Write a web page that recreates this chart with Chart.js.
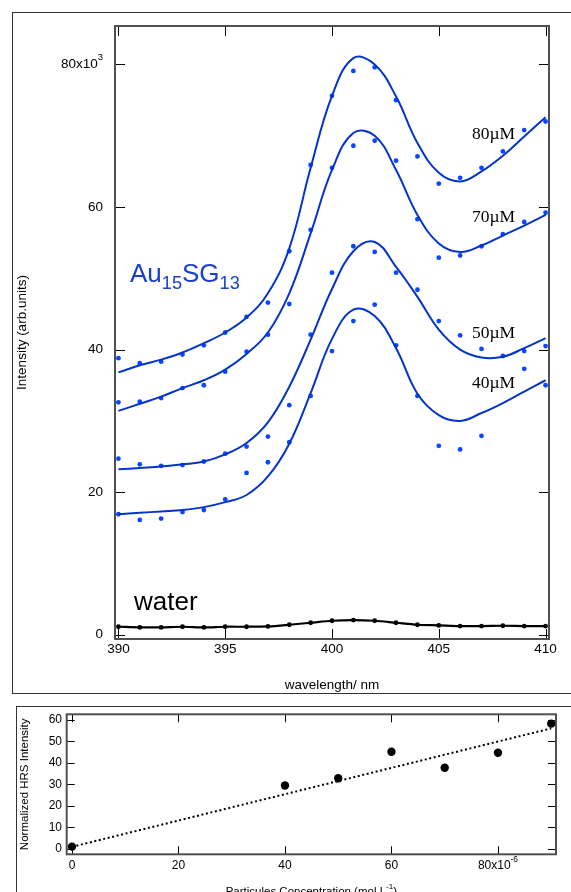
<!DOCTYPE html>
<html>
<head>
<meta charset="utf-8">
<script src="https://cdn.jsdelivr.net/npm/chart.js@4.4.1/dist/chart.umd.min.js"></script>
<style>
  body { margin: 0; background: #fff; width: 571px; height: 892px; overflow: hidden; position: relative; }
  canvas { position: absolute; left: 0; }
  .frame { position: absolute; border: 1.5px solid #333; }
</style>
</head>
<body>
<div class="frame" style="left:12px;top:12px;width:700px;height:680px"></div>
<div class="frame" style="left:16px;top:706px;width:700px;height:400px"></div>
<canvas id="spectra" width="571" height="700" style="top:0"></canvas>
<canvas id="hrs" width="571" height="192" style="top:700px"></canvas>
<script>
Chart.defaults.font.family = 'Liberation Sans';
Chart.defaults.animation = false;

// spectra (intensity in units of 10^3)
const wavelength = [390,391,392,393,394,395,396,397,398,399,400,401,402,403,404,405,406,407,408,409,410];
const dots80 = [38.8,38.1,38.3,39.3,40.6,42.4,44.6,46.6,53.8,65.9,75.6,79.1,79.6,75.0,67.1,63.3,64.1,65.5,67.8,70.8,72.0];
const dots70 = [32.6,32.7,33.2,34.6,35.0,36.9,39.7,42.1,46.4,56.8,65.5,68.6,69.3,66.5,58.3,52.9,53.2,54.5,56.2,57.9,59.2];
const dots50 = [24.7,23.9,23.7,23.8,24.3,25.4,26.4,27.8,32.2,42.1,50.8,54.5,53.7,50.8,48.4,44.0,42.0,40.1,39.1,39.8,40.5];
const dots40 = [16.9,16.1,16.3,17.2,17.5,19.0,22.7,24.2,27.0,33.5,39.8,44.0,46.3,40.6,33.5,26.5,26.0,27.9,null,37.3,35.0];
const waterDots = [1.12,1.03,1.03,1.12,1.03,1.12,1.12,1.17,1.40,1.68,1.96,2.06,1.96,1.68,1.40,1.31,1.21,1.21,1.26,1.21,1.21];

// fitted curves at each wavelength
const fit80 = [36.8,37.8,38.6,39.6,40.9,42.4,44.5,47.9,54.2,65.5,75.6,80.9,80.0,75.5,69.0,64.8,63.6,65.0,67.2,69.9,72.6];
const fit70 = [31.4,32.4,33.4,34.6,35.7,37.2,39.4,42.4,47.9,56.3,65.2,70.4,70.0,65.2,58.9,54.9,53.7,54.6,56.0,57.4,58.9];
const fit50 = [23.2,23.4,23.6,23.9,24.3,25.3,26.9,29.8,34.8,41.4,48.5,53.8,55.1,51.6,47.4,42.8,40.0,38.9,39.0,40.2,41.6];
const fit40 = [16.9,17.1,17.3,17.5,17.9,18.6,19.6,22.2,26.8,33.9,41.5,45.6,44.7,40.2,33.8,30.8,30.0,31.1,32.5,34.1,35.7];

const concLabels = ['80µM', '70µM', '50µM', '40µM'];
const nmTicks = [390, 395, 400, 405, 410];
const intensityTicks = [0, 20, 40, 60, 80];

// HRS vs concentration (units of 10^-6 mol/L)
const concentration = [0, 40, 50, 60, 70, 80, 90];
const hrsIntensity = [1.1, 29.5, 32.9, 45.2, 37.8, 44.8, 58.3];
const lineConc = [0, 90];
const lineHrs = [1.0, 56.1];
const concTicks = [0, 20, 40, 60, 80];
const hrsTicks = [0, 10, 20, 30, 40, 50, 60];

function xy(xs, ys) {
  return xs.map((x, i) => ({ x: x, y: ys[i] }));
}

// draws text made of normal / superscript / subscript parts
function richText(ctx, parts, x, y, align, size, color, family) {
  family = family || 'Liberation Sans';
  const small = size * 0.7;
  const fontOf = p => (p.sup || p.sub ? small : size) + 'px "' + family + '"';
  let w = 0;
  parts.forEach(p => { ctx.font = fontOf(p); w += ctx.measureText(p.t).width; });
  let cx = align === 'right' ? x - w : (align === 'center' ? x - w / 2 : x);
  ctx.fillStyle = color;
  ctx.textAlign = 'left';
  parts.forEach(p => {
    ctx.font = fontOf(p);
    const dy = p.sup ? -size * 0.5 : (p.sub ? size * 0.26 : 0);
    ctx.fillText(p.t, cx, y + dy);
    cx += ctx.measureText(p.t).width;
  });
  return w;
}

// Igor-like frame: box, inward ticks on all sides, labels
function axesPlugin(o) {
  return {
    id: 'axes_' + o.name,
    afterDatasetsDraw(chart) {
      const ctx = chart.ctx, a = chart.chartArea;
      const sx = chart.scales.x, sy = chart.scales.y;
      ctx.save();
      ctx.strokeStyle = '#000';
      ctx.lineWidth = 1;
      ctx.beginPath();
      sx.ticks.forEach(t => {
        const p = Math.round(sx.getPixelForValue(t.value)) + 0.5;
        ctx.moveTo(p, a.bottom); ctx.lineTo(p, a.bottom - o.tick);
        ctx.moveTo(p, a.top); ctx.lineTo(p, a.top + o.tick);
      });
      sy.ticks.forEach(t => {
        const p = Math.round(sy.getPixelForValue(t.value)) + 0.5;
        ctx.moveTo(a.left, p); ctx.lineTo(a.left + o.tick, p);
        ctx.moveTo(a.right, p); ctx.lineTo(a.right - o.tick, p);
      });
      ctx.stroke();
      ctx.strokeStyle = '#505050';
      ctx.lineWidth = 2;
      ctx.strokeRect(a.left, a.top, a.right - a.left, a.bottom - a.top);

      ctx.textBaseline = 'middle';
      sx.ticks.forEach(t => richText(ctx, o.xLabel(t.value), sx.getPixelForValue(t.value), o.xLabelY, 'center', o.size, '#000'));
      sy.ticks.forEach(t => richText(ctx, o.yLabel(t.value), o.yLabelX, sy.getPixelForValue(t.value), 'right', o.size, '#000'));

      // axis titles
      ctx.textBaseline = 'alphabetic';
      richText(ctx, o.xTitle, (a.left + a.right) / 2, o.xTitleY, 'center', o.titleSize, '#000');
      ctx.translate(o.yTitleX, (a.top + a.bottom) / 2);
      ctx.rotate(-Math.PI / 2);
      ctx.textBaseline = 'middle';
      richText(ctx, o.yTitle, 0, 0, 'center', o.titleSize, '#000');
      ctx.restore();
    }
  };
}

const spectraNotes = {
  id: 'spectraNotes',
  afterDatasetsDraw(chart) {
    const ctx = chart.ctx;
    ctx.save();
    const ys = [134, 217, 333, 383];
    ctx.textBaseline = 'middle';
    ctx.font = '17.5px "Liberation Serif"';
    concLabels.forEach((t, i) => {
      const w = ctx.measureText(t).width;
      ctx.fillStyle = '#fff';
      ctx.fillRect(471, ys[i] - 8, w + 3, 15);
      ctx.fillStyle = '#000';
      ctx.textAlign = 'left';
      ctx.fillText(t, 472, ys[i]);
    });
    ctx.textBaseline = 'alphabetic';
    richText(ctx, [{ t: 'Au' }, { t: '15', sub: true }, { t: 'SG' }, { t: '13', sub: true }], 130, 282, 'left', 26, '#1a40cc');
    richText(ctx, [{ t: 'water' }], 134, 610, 'left', 26, '#000');
    ctx.restore();
  }
};

const fitStyle = { showLine: true, pointRadius: 0, borderColor: '#0534c8', borderWidth: 2, tension: 0.4 };
const dotStyle = { showLine: false, pointRadius: 2.4, pointBackgroundColor: '#0a46ff', pointBorderWidth: 0 };

new Chart(document.getElementById('spectra'), {
  type: 'scatter',
  data: {
    datasets: [
      Object.assign({ data: xy(wavelength, fit80) }, fitStyle),
      Object.assign({ data: xy(wavelength, fit70) }, fitStyle),
      Object.assign({ data: xy(wavelength, fit50) }, fitStyle),
      Object.assign({ data: xy(wavelength, fit40) }, fitStyle),
      Object.assign({ data: xy(wavelength, dots80) }, dotStyle),
      Object.assign({ data: xy(wavelength, dots70) }, dotStyle),
      Object.assign({ data: xy(wavelength, dots50) }, dotStyle),
      Object.assign({ data: xy(wavelength, dots40) }, dotStyle),
      {
        data: xy(wavelength, waterDots),
        showLine: true,
        tension: 0.3,
        borderColor: '#000',
        borderWidth: 2.2,
        pointRadius: 2.4,
        pointBackgroundColor: '#000',
        pointBorderWidth: 0
      }
    ]
  },
  options: {
    responsive: false,
    layout: { padding: { left: 0, top: 26, right: 22, bottom: 0 } },
    plugins: { legend: { display: false }, tooltip: { enabled: false } },
    scales: {
      x: {
        type: 'linear', min: 389.84, max: 410.16,
        grid: { display: false }, border: { display: false }, ticks: { display: false },
        afterBuildTicks: s => { s.ticks = nmTicks.map(v => ({ value: v })); },
        afterFit: s => { s.height = 61; }
      },
      y: {
        type: 'linear', min: -0.6, max: 85.4,
        grid: { display: false }, border: { display: false }, ticks: { display: false },
        afterBuildTicks: s => { s.ticks = intensityTicks.map(v => ({ value: v })); },
        afterFit: s => { s.width = 115; }
      }
    }
  },
  plugins: [spectraNotes, axesPlugin({
    name: 'spectra', tick: 10, size: 13.5, titleSize: 13.5,
    xLabelY: 649, yLabelX: 103,
    xLabel: v => [{ t: String(v) }],
    yLabel: v => v === 80 ? [{ t: '80x10' }, { t: '3', sup: true }] : [{ t: String(v) }],
    xTitle: [{ t: 'wavelength/ nm' }], xTitleY: 689,
    yTitle: [{ t: 'Intensity (arb.units)' }], yTitleX: 22
  })]
});

new Chart(document.getElementById('hrs'), {
  type: 'scatter',
  data: {
    datasets: [
      {
        data: xy(lineConc, lineHrs),
        showLine: true,
        pointRadius: 0,
        borderColor: '#000',
        borderWidth: 2,
        borderDash: [2, 2.6]
      },
      {
        data: xy(concentration, hrsIntensity),
        showLine: false,
        pointRadius: 4.2,
        pointBackgroundColor: '#000',
        pointBorderWidth: 0
      }
    ]
  },
  options: {
    responsive: false,
    layout: { padding: { left: 0, top: 14.3, right: 15, bottom: 0 } },
    plugins: { legend: { display: false }, tooltip: { enabled: false } },
    scales: {
      x: {
        type: 'linear', min: -0.99, max: 90.9,
        grid: { display: false }, border: { display: false }, ticks: { display: false },
        afterBuildTicks: s => { s.ticks = concTicks.map(v => ({ value: v })); },
        afterFit: s => { s.height = 37.7; }
      },
      y: {
        type: 'linear', min: -2.47, max: 62.65,
        grid: { display: false }, border: { display: false }, ticks: { display: false },
        afterBuildTicks: s => { s.ticks = hrsTicks.map(v => ({ value: v })); },
        afterFit: s => { s.width = 66.7; }
      }
    }
  },
  plugins: [axesPlugin({
    name: 'hrs', tick: 8, size: 12, titleSize: 11.5,
    xLabelY: 166, yLabelX: 62,
    xLabel: v => v === 80 ? [{ t: '80x10' }, { t: '-6', sup: true }] : [{ t: String(v) }],
    yLabel: v => [{ t: String(v) }],
    xTitle: [{ t: 'Particules Concentration (mol L' }, { t: '-1', sup: true }, { t: ')' }], xTitleY: 194.5,
    yTitle: [{ t: 'Normalized HRS Intensity' }], yTitleX: 25
  })]
});
</script>
</body>
</html>
